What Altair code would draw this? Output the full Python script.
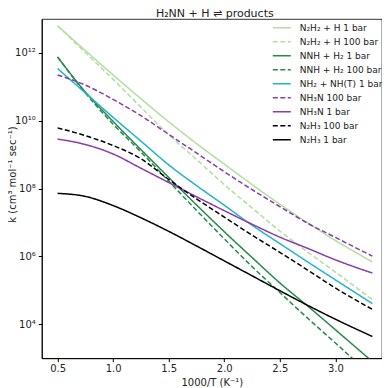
import altair as alt
import pandas as pd

# 1000/T grid (K^-1)
inv_T = [0.5, 0.75, 1.0, 1.25, 1.5, 1.75, 2.0, 2.25, 2.5, 2.75, 3.0, 3.333]

# log10 of k (cm^3 mol^-1 s^-1)
logk_n2h2_h_1 = [12.80, 12.07, 11.35, 10.65, 9.97, 9.33, 8.72, 8.12, 7.54, 6.99, 6.47, 5.84]
logk_n2h2_h_100 = [12.80, 12.01, 11.22, 10.40, 9.59, 8.86, 8.12, 7.43, 6.75, 6.13, 5.54, 4.73]
logk_nnh_h2_1 = [11.88, 10.85, 9.98, 9.15, 8.33, 7.52, 6.73, 5.97, 5.22, 4.54, 3.84, 2.90]
logk_nnh_h2_100 = [11.88, 10.82, 9.90, 9.08, 8.22, 7.36, 6.52, 5.70, 4.94, 4.18, 3.45, 2.45]
logk_nh2_nh_1 = [11.54, 10.82, 10.10, 9.40, 8.70, 8.09, 7.51, 6.92, 6.38, 5.84, 5.31, 4.61]
logk_nh3n_100 = [11.35, 11.05, 10.63, 10.15, 9.60, 9.05, 8.50, 7.97, 7.47, 6.98, 6.56, 6.01]
logk_nh3n_1 = [9.46, 9.30, 9.02, 8.60, 8.18, 7.76, 7.35, 6.95, 6.57, 6.24, 5.90, 5.51]
logk_n2h3_100 = [9.79, 9.56, 9.27, 8.88, 8.27, 7.70, 7.16, 6.63, 6.12, 5.60, 5.07, 4.44]
logk_n2h3_1 = [7.86, 7.77, 7.50, 7.14, 6.74, 6.31, 5.87, 5.43, 4.99, 4.56, 4.15, 3.64]

names = ["N₂H₂ + H 1 bar", "N₂H₂ + H 100 bar", "NNH + H₂ 1 bar", "NNH + H₂ 100 bar",
         "NH₂ + NH(T) 1 bar", "NH₃N 100 bar", "NH₃N 1 bar", "N₂H₃ 100 bar", "N₂H₃ 1 bar"]
series = [logk_n2h2_h_1, logk_n2h2_h_100, logk_nnh_h2_1, logk_nnh_h2_100, logk_nh2_nh_1,
          logk_nh3n_100, logk_nh3n_1, logk_n2h3_100, logk_n2h3_1]
colors = ["#b3dea0", "#b3dea0", "#278a4c", "#278a4c", "#22b4c8",
          "#8a3ca8", "#8a3ca8", "#000000", "#000000"]
dashes = [[1, 0], [5, 2.5], [1, 0], [5, 2.5], [1, 0], [5, 2.5], [1, 0], [5, 2.5], [1, 0]]

rows = []
for name, vals in zip(names, series):
    for x, v in zip(inv_T, vals):
        rows.append({"invT": x, "k": 10 ** v, "series": name})
df = pd.DataFrame(rows)

FONT = "DejaVu Sans"
sup = "['⁰','¹','²','³','⁴','⁵','⁶','⁷','⁸','⁹','¹⁰','¹¹','¹²','¹³']"

chart = alt.Chart(df).mark_line(clip=True, strokeWidth=1.5, interpolate="monotone").encode(
    x=alt.X("invT:Q", title="1000/T (K⁻¹)",
            scale=alt.Scale(domain=[0.358, 3.418], nice=False, zero=False),
            axis=alt.Axis(values=[0.5, 1.0, 1.5, 2.0, 2.5, 3.0], format=".1f", grid=False,
                          tickSize=3.5, tickColor="black", domainColor="black",
                          labelFontSize=10, labelFont=FONT, labelColor="#222",
                          titleFont=FONT, titleFontSize=10, titleFontWeight="normal",
                          titleColor="#222", labelPadding=2,
                          titleY=24.5, titleBaseline="middle")),
    y=alt.Y("k:Q", title="k (cm³ mol⁻¹ sec⁻¹)",
            scale=alt.Scale(type="log", domain=[1e3, 1e13], nice=False),
            axis=alt.Axis(values=[1e4, 1e6, 1e8, 1e10, 1e12], grid=False,
                          labelExpr=f"'10' + {sup}[round(log(datum.value)/LN10)]",
                          tickSize=3.5, tickColor="black", domainColor="black",
                          labelFontSize=10, labelFont=FONT, labelColor="#222",
                          titleFont=FONT, titleFontSize=10, titleFontWeight="normal",
                          titleColor="#222", labelPadding=3,
                          titleX=-24, titleY=155, titleAngle=270,
                          titleAlign="center", titleBaseline="bottom")),
    color=alt.Color("series:N", sort=names,
                    scale=alt.Scale(domain=names, range=colors),
                    legend=alt.Legend(title=None, orient="none", legendX=230, legendY=2,
                                      symbolType="stroke", symbolSize=324, symbolStrokeWidth=1.5,
                                      clipHeight=13.25, rowPadding=0, labelFont=FONT,
                                      labelFontSize=9, labelColor="#222", labelOffset=8,
                                      padding=0)),
    strokeDash=alt.StrokeDash("series:N", sort=names,
                              scale=alt.Scale(domain=names, range=dashes)),
).properties(
    width=340, height=339.2,
    title=alt.TitleParams("H₂NN + H ⇌ products", font=FONT, fontSize=11,
                          fontWeight="normal", color="#222", offset=0, dx=3),
    autosize=alt.AutoSizeParams(type="none"),
    padding={"left": 33.8, "top": 11, "right": 0, "bottom": 29.8},
).configure_view(stroke="black", strokeWidth=0.8)

chart.save("out.html", embed_options={"renderer": "svg", "actions": False})
